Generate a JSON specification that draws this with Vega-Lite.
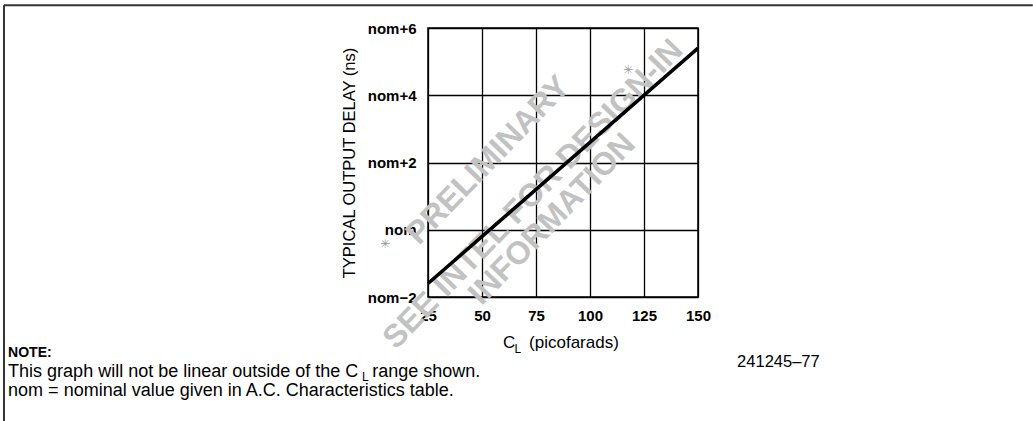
{
  "$schema": "https://vega.github.io/schema/vega-lite/v6.json",
  "width": 270,
  "height": 269,
  "autosize": {"type": "none"},
  "padding": {"left": 428, "top": 28, "right": 335, "bottom": 124},
  "background": "white",
  "config": {
    "font": "Liberation Sans",
    "view": {"stroke": "black", "strokeWidth": 1.5}
  },
  "datasets": {
    "delay": [
      {"x": 25, "y": -1.6},
      {"x": 150, "y": 5.4}
    ],
    "frame": [
      {"x": -171.3, "x2": -171.3, "y": 6.68, "y2": -5.7},
      {"x": -171.3, "x2": 305, "y": 6.68, "y2": 6.68}
    ],
    "stamp": [
      {"x": 52.8, "y": 2.07, "t": "PRELIMINARY"},
      {"x": 73.6, "y": 1.06, "t": "SEE INTEL FOR DESIGN-IN"},
      {"x": 82.4, "y": 0.32, "t": "INFORMATION"}
    ],
    "stars": [
      {"x": 117.6, "y": 4.75, "t": "✳"},
      {"x": 5.1, "y": -0.42, "t": "✳"}
    ],
    "boldNotes": [
      {"x": -169.4, "y": -3.78, "t": "NOTE:"}
    ],
    "notes": [
      {"x": -169.4, "y": -4.38, "t": "This graph will not be linear outside of the C"},
      {"x": -0.8, "y": -4.38, "t": "range shown."},
      {"x": -169.4, "y": -4.94, "t": "nom = nominal value given in A.C. Characteristics table."}
    ],
    "figureId": [
      {"x": 168.1, "y": -4.08, "t": "241245–77"}
    ],
    "xTitle": [
      {"x": 59.7, "y": -3.52, "t": "C"},
      {"x": 71.8, "y": -3.52, "t": "(picofarads)"}
    ],
    "subs": [
      {"x": -5.6, "y": -4.5, "t": "L"},
      {"x": 65.0, "y": -3.66, "t": "L"}
    ]
  },
  "layer": [
    {
      "data": {"name": "frame"},
      "mark": {"type": "rule", "color": "#333333", "strokeWidth": 2, "clip": false},
      "encoding": {
        "x": {"field": "x", "type": "quantitative", "scale": {"domain": [25, 150], "nice": false, "zero": false}},
        "x2": {"field": "x2"},
        "y": {"field": "y", "type": "quantitative", "scale": {"domain": [-2, 6], "nice": false, "zero": false}},
        "y2": {"field": "y2"}
      }
    },
    {
      "data": {"name": "stamp"},
      "mark": {"type": "text", "angle": -46, "fontSize": 32, "fontWeight": "bold", "color": "#c2c2c2", "align": "center", "baseline": "middle", "clip": false},
      "encoding": {
        "x": {"field": "x", "type": "quantitative", "scale": {"domain": [25, 150], "nice": false, "zero": false}},
        "y": {"field": "y", "type": "quantitative", "scale": {"domain": [-2, 6], "nice": false, "zero": false}},
        "text": {"field": "t"}
      }
    },
    {
      "data": {"name": "stars"},
      "mark": {"type": "text", "fontSize": 12, "font": "DejaVu Sans", "color": "#999999", "align": "center", "baseline": "middle", "clip": false},
      "encoding": {
        "x": {"field": "x", "type": "quantitative", "scale": {"domain": [25, 150], "nice": false, "zero": false}},
        "y": {"field": "y", "type": "quantitative", "scale": {"domain": [-2, 6], "nice": false, "zero": false}},
        "text": {"field": "t"}
      }
    },
    {
      "data": {"name": "delay"},
      "mark": {"type": "line", "color": "black", "strokeWidth": 3.5, "strokeCap": "butt"},
      "encoding": {
        "x": {
          "field": "x",
          "type": "quantitative",
          "scale": {"domain": [25, 150], "nice": false, "zero": false},
          "axis": {
            "values": [25, 50, 75, 100, 125, 150],
            "title": null,
            "grid": true,
            "gridColor": "black",
            "gridOpacity": 1,
            "gridWidth": 1.3,
            "domain": false,
            "ticks": false,
            "labelPadding": 11,
            "labelFontSize": 15,
            "labelFontWeight": "bold",
            "labelColor": "black",
            "labelFlush": false
          }
        },
        "y": {
          "field": "y",
          "type": "quantitative",
          "scale": {"domain": [-2, 6], "nice": false, "zero": false},
          "axis": {
            "values": [-2, 0, 2, 4, 6],
            "title": "TYPICAL OUTPUT DELAY (ns)",
            "titleFontSize": 16.5,
            "titleFontWeight": "normal",
            "titleColor": "black",
            "titlePadding": 10,
            "labelExpr": "datum.value == 0 ? 'nom' : (datum.value > 0 ? 'nom+' + datum.value : 'nom−' + abs(datum.value))",
            "grid": true,
            "gridColor": "black",
            "gridOpacity": 1,
            "gridWidth": 1.3,
            "domain": false,
            "ticks": false,
            "labelPadding": 12,
            "labelFontSize": 15,
            "labelFontWeight": "bold",
            "labelColor": "black",
            "labelFlush": false
          }
        }
      }
    },
    {
      "data": {"name": "boldNotes"},
      "mark": {"type": "text", "fontSize": 14, "fontWeight": "bold", "color": "black", "align": "left", "baseline": "alphabetic", "clip": false},
      "encoding": {
        "x": {"field": "x", "type": "quantitative", "scale": {"domain": [25, 150], "nice": false, "zero": false}},
        "y": {"field": "y", "type": "quantitative", "scale": {"domain": [-2, 6], "nice": false, "zero": false}},
        "text": {"field": "t"}
      }
    },
    {
      "data": {"name": "notes"},
      "mark": {"type": "text", "fontSize": 18, "color": "black", "align": "left", "baseline": "alphabetic", "clip": false},
      "encoding": {
        "x": {"field": "x", "type": "quantitative", "scale": {"domain": [25, 150], "nice": false, "zero": false}},
        "y": {"field": "y", "type": "quantitative", "scale": {"domain": [-2, 6], "nice": false, "zero": false}},
        "text": {"field": "t"}
      }
    },
    {
      "data": {"name": "figureId"},
      "mark": {"type": "text", "fontSize": 16.5, "color": "black", "align": "left", "baseline": "alphabetic", "clip": false},
      "encoding": {
        "x": {"field": "x", "type": "quantitative", "scale": {"domain": [25, 150], "nice": false, "zero": false}},
        "y": {"field": "y", "type": "quantitative", "scale": {"domain": [-2, 6], "nice": false, "zero": false}},
        "text": {"field": "t"}
      }
    },
    {
      "data": {"name": "xTitle"},
      "mark": {"type": "text", "fontSize": 17, "color": "black", "align": "left", "baseline": "alphabetic", "clip": false},
      "encoding": {
        "x": {"field": "x", "type": "quantitative", "scale": {"domain": [25, 150], "nice": false, "zero": false}},
        "y": {"field": "y", "type": "quantitative", "scale": {"domain": [-2, 6], "nice": false, "zero": false}},
        "text": {"field": "t"}
      }
    },
    {
      "data": {"name": "subs"},
      "mark": {"type": "text", "fontSize": 12, "color": "black", "align": "left", "baseline": "alphabetic", "clip": false},
      "encoding": {
        "x": {"field": "x", "type": "quantitative", "scale": {"domain": [25, 150], "nice": false, "zero": false}},
        "y": {"field": "y", "type": "quantitative", "scale": {"domain": [-2, 6], "nice": false, "zero": false}},
        "text": {"field": "t"}
      }
    }
  ]
}
